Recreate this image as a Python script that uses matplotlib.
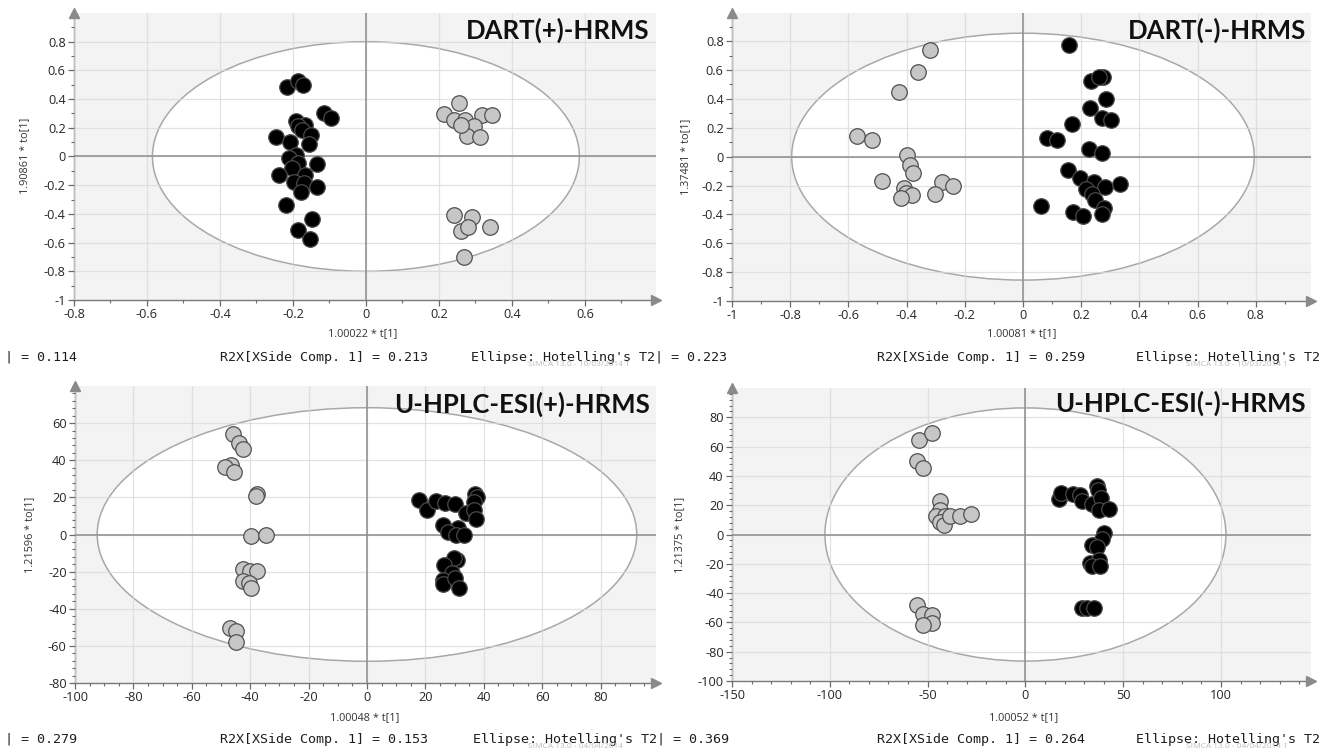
import numpy as np
import matplotlib
matplotlib.use("Agg")
import matplotlib.pyplot as plt
from matplotlib.patches import Ellipse
from matplotlib.ticker import AutoMinorLocator

plt.rcParams['axes.unicode_minus'] = False

W, H = 1323, 756  # figure size in pixels

# ---- data ----
# DART(+)-HRMS
p1_black_x = [-0.217, -0.186, -0.172, -0.114, -0.096, -0.191, -0.168, -0.186, -0.174, -0.151,
              -0.157, -0.247, -0.209, -0.191, -0.212, -0.186, -0.203, -0.133, -0.238, -0.168,
              -0.197, -0.170, -0.133, -0.177, -0.218, -0.147, -0.186, -0.154]
p1_black_y = [0.485, 0.524, 0.500, 0.303, 0.268, 0.245, 0.221, 0.214, 0.186, 0.152,
              0.089, 0.135, 0.098, 0.012, -0.012, -0.047, -0.082, -0.054, -0.128, -0.128,
              -0.175, -0.182, -0.210, -0.245, -0.338, -0.438, -0.513, -0.576]
p1_gray_x = [0.255, 0.214, 0.241, 0.272, 0.319, 0.345, 0.296, 0.276, 0.313, 0.261,
             0.241, 0.292, 0.261, 0.281, 0.339, 0.269]
p1_gray_y = [0.373, 0.296, 0.252, 0.252, 0.291, 0.291, 0.210, 0.145, 0.133, 0.221,
             -0.408, -0.424, -0.520, -0.494, -0.494, -0.699]

# DART(-)-HRMS
p2_gray_x = [-0.319, -0.362, -0.425, -0.570, -0.519, -0.399, -0.388, -0.377, -0.486, -0.409,
             -0.403, -0.380, -0.420, -0.278, -0.239, -0.301]
p2_gray_y = [0.740, 0.589, 0.450, 0.144, 0.114, 0.012, -0.058, -0.111, -0.169, -0.216,
             -0.251, -0.269, -0.285, -0.174, -0.200, -0.258]
p2_black_x = [0.159, 0.275, 0.235, 0.261, 0.286, 0.232, 0.272, 0.304, 0.167, 0.084,
              0.116, 0.228, 0.271, 0.155, 0.196, 0.243, 0.283, 0.333, 0.217, 0.239,
              0.246, 0.280, 0.061, 0.171, 0.207, 0.272]
p2_black_y = [0.770, 0.555, 0.522, 0.555, 0.399, 0.334, 0.267, 0.253, 0.225, 0.132,
              0.114, 0.051, 0.028, -0.095, -0.146, -0.176, -0.209, -0.188, -0.225, -0.262,
              -0.297, -0.355, -0.343, -0.385, -0.408, -0.394]

# U-HPLC-ESI(+)-HRMS
p3_gray_x = [-45.9, -43.7, -42.6, -46.6, -48.5, -45.6, -37.8, -38.1, -39.6, -34.6,
             -42.6, -40.0, -37.6, -42.6, -40.3, -39.7, -46.9, -44.7, -44.7]
p3_gray_y = [54.2, 49.2, 46.1, 37.3, 36.2, 33.8, 21.7, 21.0, -0.9, 0.0,
             -18.4, -19.5, -19.5, -25.1, -26.0, -28.9, -50.6, -52.1, -57.9]
p3_black_x = [17.9, 20.4, 23.6, 26.9, 30.3, 33.8, 37.1, 37.8, 36.8, 36.8, 37.4, 26.2,
              31.3, 27.9, 30.6, 33.2, 31.0, 29.8, 26.5, 29.1, 25.9, 26.2, 30.1, 31.6]
p3_black_y = [18.6, 13.0, 18.1, 17.2, 16.3, 11.4, 21.7, 20.4, 17.7, 13.0, 8.3, 5.1,
              3.6, 1.4, -0.4, 0.0, -13.9, -12.7, -16.6, -20.8, -24.4, -26.8, -23.5, -28.9]

# U-HPLC-ESI(-)-HRMS
p4_gray_x = [-54.5, -47.6, -55.2, -52.4, -43.8, -43.8, -45.9, -40.9, -43.8, -41.6,
             -38.8, -33.4, -27.6, -55.6, -52.4, -47.6, -47.6, -52.4]
p4_gray_y = [64.5, 69.1, 50.1, 45.5, 22.7, 16.5, 12.6, 12.6, 8.5, 6.6,
             12.6, 12.6, 14.2, -48.3, -54.5, -55.1, -60.2, -62.0]
p4_black_x = [17.2, 18.1, 24.1, 28.0, 28.9, 33.8, 36.4, 37.1, 38.8, 37.7, 42.5,
              40.3, 39.2, 33.8, 36.6, 32.8, 37.7, 33.8, 38.1, 29.1, 31.7, 34.9]
p4_black_y = [24.0, 28.6, 27.9, 27.2, 22.7, 21.1, 33.2, 30.2, 24.9, 16.9, 17.2,
              1.1, -3.0, -6.9, -8.7, -19.5, -17.4, -21.7, -21.7, -49.9, -49.9, -49.9]

titles = ["DART(+)-HRMS", "DART(-)-HRMS", "U-HPLC-ESI(+)-HRMS", "U-HPLC-ESI(-)-HRMS"]
xlabels = ["1.00022 * t[1]", "1.00081 * t[1]", "1.00048 * t[1]", "1.00052 * t[1]"]
ylabels = ["1.90861 * to[1]", "1.37481 * to[1]", "1.21596 * to[1]", "1.21375 * to[1]"]
# Hotelling's T2 ellipse semi-axes
ell_a = [0.585, 0.795, 92.4, 102.5]
ell_b = [0.80, 0.855, 68.3, 86.4]
xticks = [[-0.8, -0.6, -0.4, -0.2, 0, 0.2, 0.4, 0.6],
          [-1, -0.8, -0.6, -0.4, -0.2, 0, 0.2, 0.4, 0.6, 0.8],
          [-100, -80, -60, -40, -20, 0, 20, 40, 60, 80],
          [-150, -100, -50, 0, 50, 100]]
yticks = [[-1, -0.8, -0.6, -0.4, -0.2, 0, 0.2, 0.4, 0.6, 0.8],
          [-1, -0.8, -0.6, -0.4, -0.2, 0, 0.2, 0.4, 0.6, 0.8],
          [-80, -60, -40, -20, 0, 20, 40, 60],
          [-100, -80, -60, -40, -20, 0, 20, 40, 60, 80]]
xlims = [(-0.8, 0.795), (-1, 0.99), (-100, 99), (-150, 146)]
ylims = [(-1, 1.0), (-1, 0.995), (-80, 80), (-100, 100)]
r2x_1 = ["0.114", "0.223", "0.279", "0.369"]
r2x_side = ["0.213", "0.259", "0.153", "0.264"]
simca = ["SIMCA 13.0 - 10/03/2014 1", "SIMCA 13.0 - 10/03/2014 1",
         "SIMCA 13.0 - 04/04/2014", "SIMCA 13.0 - 04/04/2014 1"]

black_x = [p1_black_x, p2_black_x, p3_black_x, p4_black_x]
black_y = [p1_black_y, p2_black_y, p3_black_y, p4_black_y]
gray_x = [p1_gray_x, p2_gray_x, p3_gray_x, p4_gray_x]
gray_y = [p1_gray_y, p2_gray_y, p3_gray_y, p4_gray_y]

# axes boxes in pixels: left, right, top, bottom
boxes = [(74, 656, 13, 300), (732, 1311, 13, 301), (75, 656, 386, 683), (732, 1311, 388, 681)]
minors = [(2, 2), (2, 2), (4, 5), (5, 5)]

def fx(px):
    return px / W

def fy(py):
    return 1 - py / H

fig = plt.figure(figsize=(W / 100, H / 100), dpi=100)
fig.patch.set_facecolor("white")

for i in range(4):
    l, r, t, b = boxes[i]
    ax = fig.add_axes([fx(l), fy(b), (r - l) / W, (b - t) / H])
    ax.set_facecolor("#f3f3f3")
    ax.set_xlim(*xlims[i])
    ax.set_ylim(*ylims[i])
    ax.set_xticks(xticks[i])
    ax.set_yticks(yticks[i])
    ax.set_xticklabels(["%g" % v for v in xticks[i]])
    ax.set_yticklabels(["%g" % v for v in yticks[i]])
    ax.xaxis.set_minor_locator(AutoMinorLocator(minors[i][0]))
    ax.yaxis.set_minor_locator(AutoMinorLocator(minors[i][1]))

    ax.add_patch(Ellipse((0, 0), 2 * ell_a[i], 2 * ell_b[i], facecolor="white",
                         edgecolor="#a8a8a8", lw=1.1, zorder=1))
    ax.grid(True, which="major", color="#d9d9d9", lw=0.9, alpha=0.75, zorder=2)
    ax.set_axisbelow(False)
    ax.axhline(0, color="#8c8c8c", lw=1.1, zorder=3)
    ax.axvline(0, color="#8c8c8c", lw=1.1, zorder=3)

    ax.scatter(gray_x[i], gray_y[i], s=125, c="#c6c6c6", edgecolors="#505050",
               linewidths=0.9, zorder=4)
    ax.scatter(black_x[i], black_y[i], s=125, c="black", edgecolors="#4a4a4a",
               linewidths=0.9, zorder=5)

    for side in ["top", "right"]:
        ax.spines[side].set_visible(False)
    for side in ["left", "bottom"]:
        ax.spines[side].set_color("#7a7a7a")
        ax.spines[side].set_linewidth(1.0)
    ax.plot(1.0, 0, ">", color="#8a8a8a", ms=7, transform=ax.transAxes, clip_on=False, zorder=6)
    ax.plot(0, 1.0, "^", color="#8a8a8a", ms=7, transform=ax.transAxes, clip_on=False, zorder=6)
    ax.tick_params(which="major", direction="out", length=4, width=0.9, color="#6a6a6a",
                   labelsize=9.2, labelcolor="#262626", pad=2)
    ax.tick_params(which="minor", direction="out", length=2.5, width=0.8, color="#6a6a6a")
    for lab in ax.get_xticklabels() + ax.get_yticklabels():
        lab.set_family("Open Sans")

    ax.set_xlabel(xlabels[i], fontsize=7.8, family="Open Sans", color="#333333")
    ax.set_ylabel(ylabels[i], fontsize=7.8, family="Open Sans", color="#333333")

# label positions (figure pixels)
xlab_pos = [(363, 334), (1022, 334), (365, 718), (1024, 718)]
ylab_pos = [(25, 156), (686, 157), (30, 535), (680, 535)]
for ax, (xx, xy), (yx, yy) in zip(fig.axes, xlab_pos, ylab_pos):
    ax.xaxis.set_label_coords(fx(xx), fy(xy), transform=fig.transFigure)
    ax.yaxis.set_label_coords(fx(yx), fy(yy), transform=fig.transFigure)
    ax.xaxis.label.set_va("center")
    ax.yaxis.label.set_va("center")

# titles
title_pos = [(650, 39), (1306, 39), (650, 413), (1306, 412)]
for i, (tx, ty) in enumerate(title_pos):
    fig.text(fx(tx), fy(ty), titles[i], ha="right", va="baseline", fontsize=18.5,
             fontweight="bold", family="Lato", color="#111111")

# SIMCA footer lines
foot_y = [357, 357, 739, 739]
left_x = [5, 655, 5, 657]
r2x_x = [220, 877, 220, 877]
ell_x = [655, 1320, 657, 1320]
simca_x = [528, 1186, 528, 1186]
for i in range(4):
    mono = dict(fontsize=9.6, family="DejaVu Sans Mono", color="#1e1e1e", va="center")
    fig.text(fx(left_x[i]), fy(foot_y[i]), "| = " + r2x_1[i], ha="left", **mono)
    fig.text(fx(r2x_x[i]), fy(foot_y[i]), "R2X[XSide Comp. 1] = " + r2x_side[i], ha="left", **mono)
    fig.text(fx(ell_x[i]), fy(foot_y[i]), "Ellipse: Hotelling's T2", ha="right", **mono)
    fig.text(fx(simca_x[i]), fy(foot_y[i] + 8), simca[i], ha="left", va="center",
             fontsize=6, family="Open Sans", color="#bdbdbd")

fig.savefig("out.png", dpi=100)
